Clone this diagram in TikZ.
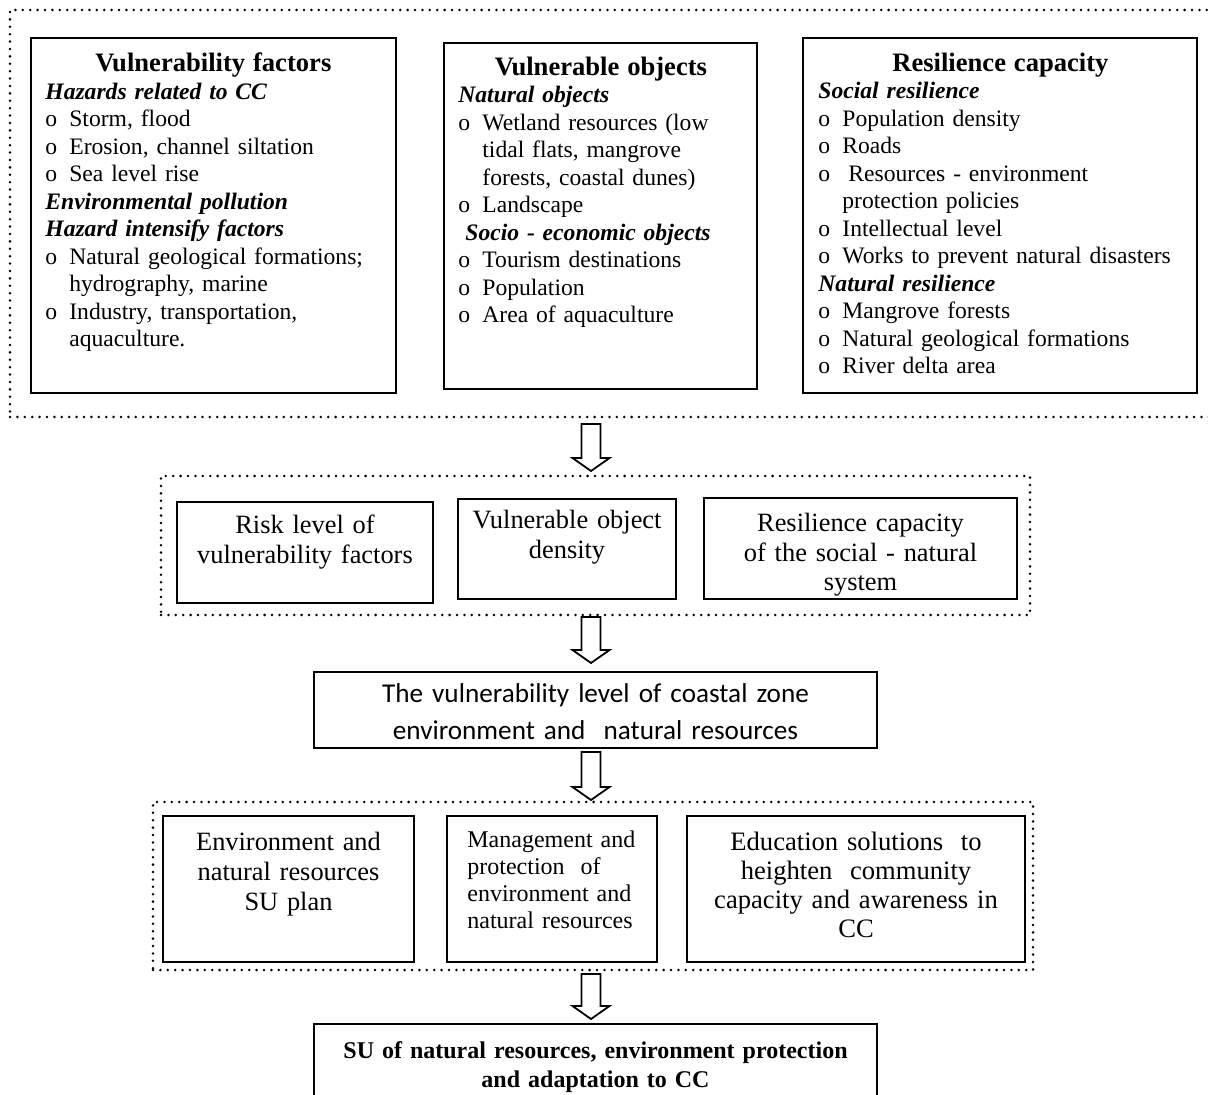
\documentclass[tikz,border=0pt]{standalone}
\usepackage{fontspec}
\setmainfont{Liberation Serif}
\newfontfamily\calibri{Carlito}
\usetikzlibrary{calc,fit}
\setlength{\parindent}{0pt}
\newcommand{\bul}[1]{\par\hangindent=12pt\hangafter=1\noindent\makebox[12pt][l]{o}#1\par}
\newcommand{\head}[1]{\par\noindent\textbf{\textit{#1}}}
\newcommand{\boxtitle}[1]{\makebox[\hsize][c]{\fontsize{13.3}{13.75}\selectfont\bfseries #1}}
\newcommand{\blockarrow}[2]{%
	\draw[blockarr] ($(#1)+(-9.5,0)$) -- ($(#2)+(-9.5,-13)$) -- ($(#2)+(-18.5,-13)$) -- (#2)
		-- ($(#2)+(18.5,-13)$) -- ($(#2)+(9.5,-13)$) -- ($(#1)+(9.5,0)$) -- cycle;}
\begin{document}
\begin{tikzpicture}[x=0.5pt, y=-0.5pt,
		dotframe/.style={draw, line width=1.4pt, line cap=round, dash pattern=on 0pt off 3.7pt, inner sep=0pt},
		box/.style={draw, line width=1pt, inner sep=0pt},
		list/.style={anchor=north west, inner sep=0pt, text width=#1, align=left, font=\fontsize{11.8}{13.75}\selectfont},
		txt/.style={anchor=north, inner sep=0pt, text width=#1, align=center, font=\fontsize{13.2}{15}\selectfont},
		blockarr/.style={draw, line width=0.9pt, fill=white}]
		\useasboundingbox (0,0) rectangle (1208,1095);
		\clip (0,0) rectangle (1208,1095);
		% dotted groups
		\node[dotframe, fit={(10,10) (1230,417)}] (row1) {};
		\node[dotframe, fit={(161,476) (1030,615)}] (row2) {};
		\node[dotframe, fit={(153,802) (1033,970)}] (row3) {};
		% first row
		\node[box, fit={(31,38) (396,393)}] (vf) {};
		\node[list=168pt] (vftext) at (45,52.6) {\boxtitle{Vulnerability factors}
			\head{Hazards related to CC}
			\bul{Storm, flood}
			\bul{Erosion, channel siltation}
			\bul{Sea level rise}
			\head{Environmental pollution}
			\head{Hazard intensify factors}
			\bul{Natural geological formations;\newline hydrography, marine}
			\bul{Industry, transportation,\newline aquaculture.}};
		\node[box, fit={(444,43) (757,389)}] (vo) {};
		\node[list=142.5pt] (votext) at (458,56.6) {\boxtitle{Vulnerable objects}
			\head{Natural objects}
			\bul{Wetland resources (low\newline tidal flats, mangrove\newline forests, coastal dunes)}
			\bul{Landscape}
			\head{\hspace*{3.5pt}Socio - economic objects}
			\bul{Tourism destinations}
			\bul{Population}
			\bul{Area of aquaculture}};
		\node[box, fit={(803,38) (1197,393)}] (rc) {};
		\node[list=182pt] (rctext) at (818,52.6) {\boxtitle{Resilience capacity}
			\head{Social resilience}
			\bul{Population density}
			\bul{Roads}
			\bul{\hspace*{3pt}Resources - environment\newline protection policies}
			\bul{Intellectual level}
			\bul{Works to prevent natural disasters}
			\head{Natural resilience}
			\bul{Mangrove forests}
			\bul{Natural geological formations}
			\bul{River delta area}};
		% second row
		\node[box, fit={(177,502) (433,603)}] (risk) {};
		\node[txt=120pt] (risktext) at (305,514.8) {Risk level of\\vulnerability factors};
		\node[box, fit={(458,499) (676,599)}] (dens) {};
		\node[txt=105pt] (denstext) at (567,509.8) {Vulnerable object\\density};
		\node[box, fit={(704,498) (1017,599)}] (resil) {};
		\node[txt=150pt, font=\fontsize{13.2}{14.75}\selectfont] (resiltext) at (860.5,512.8) {Resilience capacity\\of the social - natural\\system};
		% vulnerability level
		\node[box, fit={(314,672) (877,748)}] (level) {};
		\node[txt=270pt, font=\calibri\fontsize{13.6}{18.5}\selectfont] (leveltext) at (595.5,683.7) {The vulnerability level of coastal zone\\environment and\ \ natural resources};
		% third row
		\node[box, fit={(163,816) (414,962)}] (plan) {};
		\node[txt=120pt] (plantext) at (288.5,832) {Environment and\\natural resources\\SU plan};
		\node[box, fit={(447,816) (657,962)}] (mgmt) {};
		\node[list=92pt, font=\fontsize{12}{13.5}\selectfont] (mgmttext) at (467,830.6) {Management and\\protection\ \ of\\environment and\\natural resources};
		\node[box, fit={(687,816) (1025,962)}] (edu) {};
		\node[txt=165pt, font=\fontsize{13.3}{14.5}\selectfont] (edutext) at (856,832) {Education solutions\ \ to\\heighten\ \ community\\capacity and awareness in\\CC};
		% result
		\node[box, fit={(314,1024) (877,1130)}] (su) {};
		\node[txt=270pt, font=\fontsize{12}{14.5}\selectfont\bfseries] (sutext) at (595.5,1041) {SU of natural resources, environment protection\\and adaptation to CC};
		% block arrows
		\coordinate (arr1top) at (591,424);
		\coordinate (arr1tip) at (591,471);
		\coordinate (arr2top) at (591,617);
		\coordinate (arr2tip) at (591,663);
		\coordinate (arr3top) at (591,752);
		\coordinate (arr3tip) at (591,800);
		\coordinate (arr4top) at (591,974);
		\coordinate (arr4tip) at (591,1019);
		\foreach \i in {1,...,4}
		{\blockarrow{arr\i top}{arr\i tip}}
	\end{tikzpicture}
\end{document}
